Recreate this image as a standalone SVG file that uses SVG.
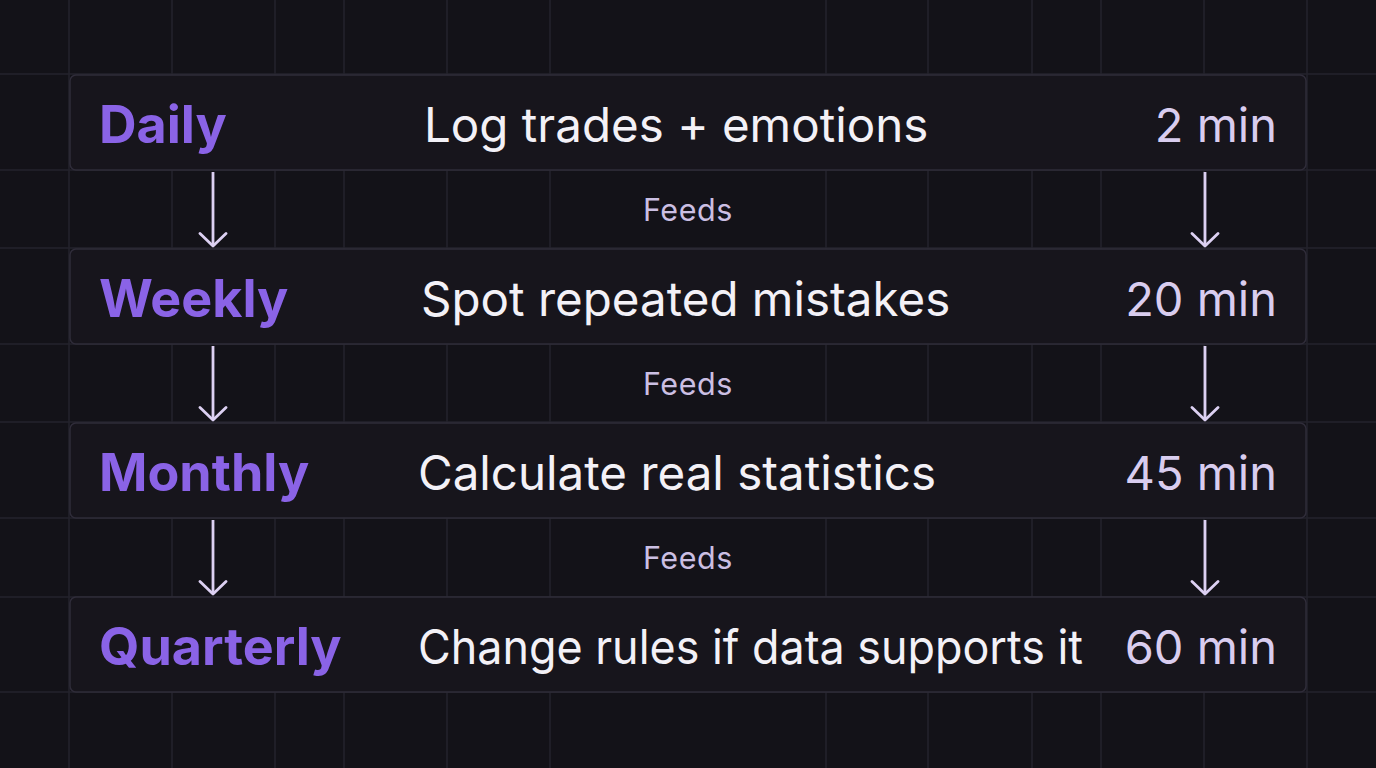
<svg xmlns="http://www.w3.org/2000/svg" width="1376" height="768" viewBox="0 0 1376 768">
<defs>
<style>
.grid line{stroke:#25232d;stroke-width:1.5}
.box{fill:#17151c;stroke:#2f2c39;stroke-width:1.5}
.lbl{font-family:Inter,"Noto Sans",sans-serif;font-weight:700;font-size:52px;fill:#8a63e6}
.desc{font-family:Inter,"Noto Sans",sans-serif;font-weight:400;font-size:47.5px;fill:#f3f1f7}
.time{font-family:Inter,"Noto Sans",sans-serif;font-weight:400;font-size:47px;fill:#d9cdef;text-anchor:end}
.feeds{font-family:Inter,"Noto Sans",sans-serif;font-weight:400;font-size:30.5px;letter-spacing:0.6px;fill:#cbbfe3;text-anchor:middle}
.conn line{stroke:#dcd0f2;stroke-width:2.8}
</style>
<marker id="ah" viewBox="0 0 16 30" refX="14" refY="15" markerWidth="16" markerHeight="30" markerUnits="userSpaceOnUse" orient="auto">
<path d="M1.5,2 L14,15 L1.5,28" fill="none" stroke="#dcd0f2" stroke-width="2.8" stroke-linecap="round" stroke-linejoin="round"/>
</marker>
</defs>
<rect width="1376" height="768" fill="#131218"/>
<g class="grid">
<line x1="69" y1="0" x2="69" y2="768"/>
<line x1="172" y1="0" x2="172" y2="768"/>
<line x1="275" y1="0" x2="275" y2="768"/>
<line x1="344" y1="0" x2="344" y2="768"/>
<line x1="447" y1="0" x2="447" y2="768"/>
<line x1="550" y1="0" x2="550" y2="768"/>
<line x1="826" y1="0" x2="826" y2="768"/>
<line x1="928" y1="0" x2="928" y2="768"/>
<line x1="1032" y1="0" x2="1032" y2="768"/>
<line x1="1101" y1="0" x2="1101" y2="768"/>
<line x1="1204" y1="0" x2="1204" y2="768"/>
<line x1="1307" y1="0" x2="1307" y2="768"/>
<line x1="0" y1="74" x2="1376" y2="74"/>
<line x1="0" y1="170" x2="1376" y2="170"/>
<line x1="0" y1="248" x2="1376" y2="248"/>
<line x1="0" y1="344" x2="1376" y2="344"/>
<line x1="0" y1="422" x2="1376" y2="422"/>
<line x1="0" y1="518" x2="1376" y2="518"/>
<line x1="0" y1="597" x2="1376" y2="597"/>
<line x1="0" y1="692" x2="1376" y2="692"/>
</g>
<g id="daily">
<rect class="box" x="70" y="75" width="1236" height="95" rx="6"/>
<text class="lbl" x="99" y="143">Daily</text>
<text class="desc" x="424" y="142">Log trades + emotions</text>
<text class="time" x="1277" y="142">2 min</text>
</g>
<g id="weekly">
<rect class="box" x="70" y="249" width="1236" height="95" rx="6"/>
<text class="lbl" x="99" y="317">Weekly</text>
<text class="desc" x="421" y="316">Spot repeated mistakes</text>
<text class="time" x="1277" y="316">20 min</text>
</g>
<g id="monthly">
<rect class="box" x="70" y="423" width="1236" height="95" rx="6"/>
<text class="lbl" x="99" y="491">Monthly</text>
<text class="desc" x="418" y="490">Calculate real statistics</text>
<text class="time" x="1277" y="490">45 min</text>
</g>
<g id="quarterly">
<rect class="box" x="70" y="597" width="1236" height="95" rx="6"/>
<text class="lbl" x="99" y="665">Quarterly</text>
<text class="desc" x="418" y="664" textLength="665" lengthAdjust="spacingAndGlyphs">Change rules if data supports it</text>
<text class="time" x="1277" y="664">60 min</text>
</g>
<g id="connectors" class="conn">
<line x1="213" y1="172" x2="213" y2="246" marker-end="url(#ah)"/>
<line x1="1205" y1="172" x2="1205" y2="246" marker-end="url(#ah)"/>
<line x1="213" y1="346" x2="213" y2="420" marker-end="url(#ah)"/>
<line x1="1205" y1="346" x2="1205" y2="420" marker-end="url(#ah)"/>
<line x1="213" y1="520" x2="213" y2="594" marker-end="url(#ah)"/>
<line x1="1205" y1="520" x2="1205" y2="594" marker-end="url(#ah)"/>
<text class="feeds" x="688" y="221">Feeds</text>
<text class="feeds" x="688" y="395">Feeds</text>
<text class="feeds" x="688" y="569">Feeds</text>
</g>
</svg>
